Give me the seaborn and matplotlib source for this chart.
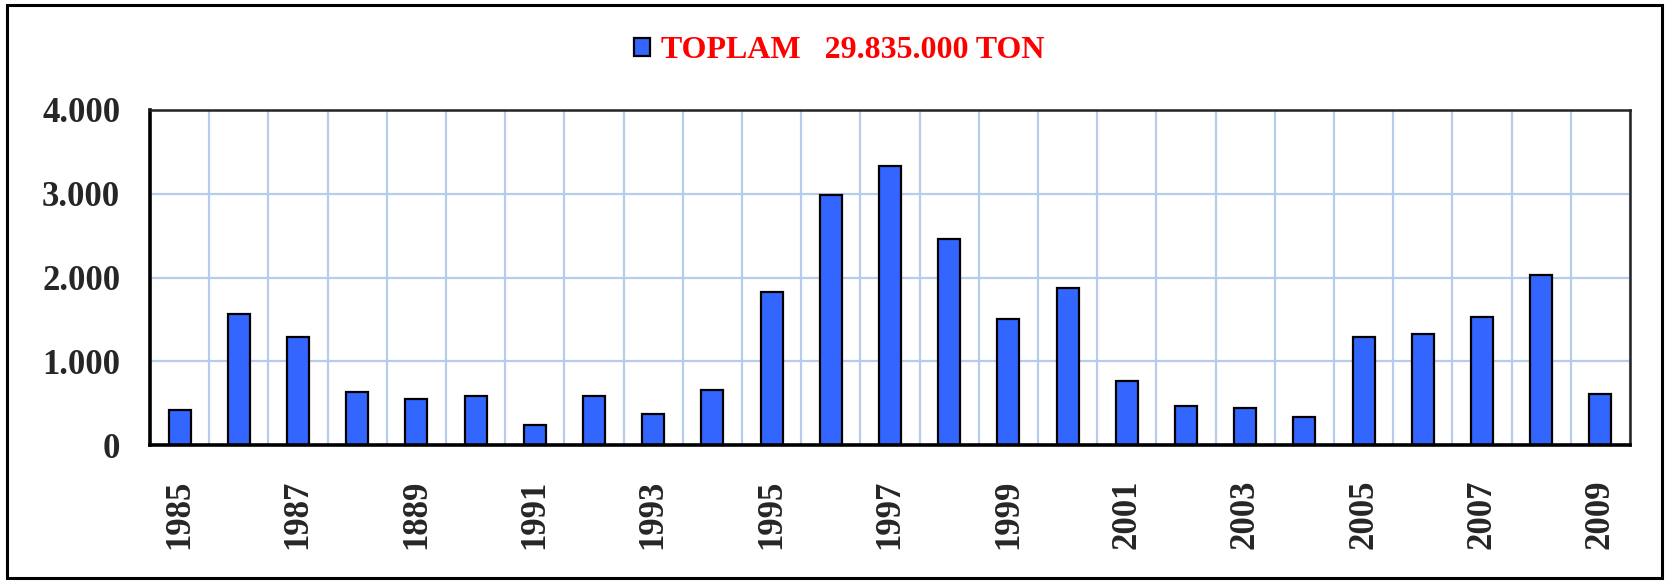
import numpy as np
import pandas as pd
import seaborn as sns
import matplotlib.pyplot as plt
from matplotlib.patches import Rectangle

# data
years = [str(y) for y in range(1985, 2010)]
tons = [420, 1560, 1295, 635, 555, 580, 235, 580, 365, 660, 1825, 2990, 3335,
        2460, 1505, 1875, 765, 470, 445, 340, 1290, 1320, 1530, 2035, 605]
year_labels = ["1985", "1987", "1889", "1991", "1993", "1995", "1997", "1999",
               "2001", "2003", "2005", "2007", "2009"]
y_ticks = [0, 1000, 2000, 3000, 4000]
y_labels = ["0", "1.000", "2.000", "3.000", "4.000"]
legend_label = "TOPLAM   29.835.000 TON"

sns.set_style("white")
plt.rcParams["font.family"] = ["Liberation Serif", "DejaVu Serif"]
plt.rcParams["font.weight"] = "bold"

df = pd.DataFrame({"year": years, "ton": tons})

fig = plt.figure(figsize=(16.69, 5.82), dpi=100)
ax = fig.add_axes([150 / 1669, 1 - 445 / 582, 1480 / 1669, 335 / 582])

grid_color = "#b7cbec"
for b in np.arange(-0.5, len(years), 1.0):
    ax.axvline(b, color=grid_color, lw=1.6, zorder=0)
for v in y_ticks[1:-1]:
    ax.axhline(v, color=grid_color, lw=1.6, zorder=0)

sns.barplot(data=df, x="year", y="ton", color="#3366ff", saturation=1,
            width=0.37, edgecolor="black", linewidth=1.6, label=legend_label,
            ax=ax, zorder=2)

ax.set_xlim(-0.5, len(years) - 0.5)
ax.set_ylim(0, 4000)
ax.set_xlabel("")
ax.set_ylabel("")

# tick marks at category boundaries, every second one
ax.set_xticks(np.arange(-0.5, len(years) - 1, 2.0))
ax.set_xticklabels([])
ax.tick_params(axis="x", which="major", direction="out", length=8.5, width=2.2, color="black")
# labels at bar centres
ax.set_xticks(np.arange(0, len(years), 2), minor=True)
ax.set_xticklabels(year_labels, minor=True, rotation=90, fontsize=25, fontweight="bold")
ax.tick_params(axis="x", which="minor", length=0, pad=25)

ax.set_yticks(y_ticks)
ax.set_yticklabels(y_labels, fontsize=25, fontweight="bold")
ax.tick_params(axis="y", direction="out", length=7.5, width=2.2, color="black", pad=14)

for side in ["left", "bottom"]:
    ax.spines[side].set_linewidth(2.6)
    ax.spines[side].set_color("black")
for side in ["top", "right"]:
    ax.spines[side].set_linewidth(1.8)
    ax.spines[side].set_color("#222222")
    ax.spines[side].set_visible(True)

ax.legend(loc="center", bbox_to_anchor=(0.503, 1 - 51 / 582), bbox_transform=fig.transFigure,
          frameon=False, fontsize=23, labelcolor="red", handlelength=0.5, handleheight=0.5,
          handletextpad=0.35, prop={"family": "Liberation Serif", "weight": "bold", "size": 23})

# outer frame
fig.patches.append(Rectangle((7 / 1669, 1 - 578 / 582), 1655 / 1669, 573 / 582,
                             transform=fig.transFigure, fill=False, edgecolor="black",
                             linewidth=2.2, zorder=10))

fig.savefig("out.png", dpi=100)
